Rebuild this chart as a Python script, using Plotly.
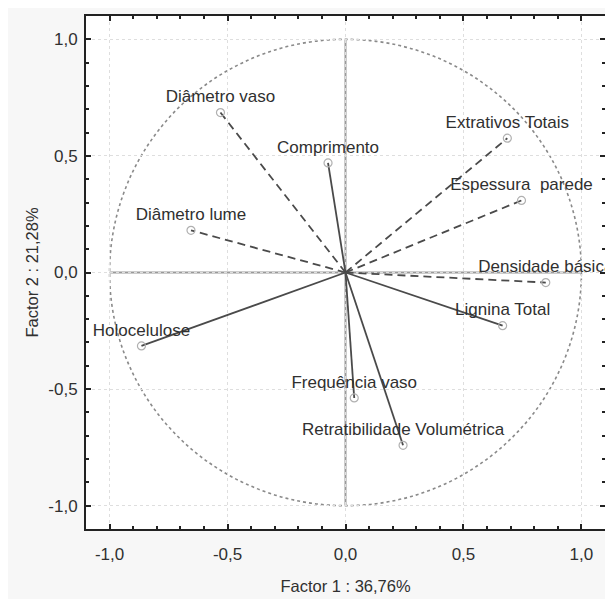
import plotly.graph_objects as go

variables = ["Diâmetro vaso", "Extrativos Totais", "Comprimento", "Espessura  parede",
             "Diâmetro lume", "Densidade básica", "Lignina Total", "Holocelulose",
             "Frequência vaso", "Retratibilidade Volumétrica"]
factor1 = [-0.53, 0.686, -0.074, 0.746, -0.655, 0.849, 0.666, -0.865, 0.037, 0.244]
factor2 = [0.686, 0.576, 0.470, 0.309, 0.181, -0.043, -0.228, -0.315, -0.538, -0.741]
dashed = [True, True, False, True, True, True, False, False, False, False]

x_ticks = [-1.0, -0.5, 0.0, 0.5, 1.0]
y_ticks = [-1.0, -0.5, 0.0, 0.5, 1.0]
tick_labels = ["-1,0", "-0,5", "0,0", "0,5", "1,0"]
x_title = "Factor 1 : 36,76%"
y_title = "Factor 2 : 21,28%"

FONT = "Liberation Sans, Arial, sans-serif"
LINE = "#4a4a4a"
TXT = "#303030"

fig = go.Figure()

# unit circle
fig.add_shape(type="circle", xref="x", yref="y", x0=-1, y0=-1, x1=1, y1=1,
              line=dict(color="#8a8a8a", width=1.6, dash="dot"), layer="below")
# zero axes lines
fig.add_shape(type="line", xref="x", yref="y", x0=-1, y0=0, x1=1, y1=0,
              line=dict(color="#9a9a9a", width=2), layer="below")
fig.add_shape(type="line", xref="x", yref="y", x0=0, y0=-1, x1=0, y1=1,
              line=dict(color="#9a9a9a", width=2), layer="below")

for name, fx, fy, d in zip(variables, factor1, factor2, dashed):
    fig.add_trace(go.Scatter(
        x=[0, fx], y=[0, fy], mode="lines",
        line=dict(color=LINE, width=1.8, dash="8px,5px" if d else "solid"),
        showlegend=False, hoverinfo="skip"))

fig.add_trace(go.Scatter(
    x=factor1, y=factor2, mode="markers+text",
    text=[v for v in variables], textposition="top center",
    textfont=dict(family=FONT, size=17, color=TXT),
    marker=dict(symbol="circle-open", size=8, color="#b0b0b0", line=dict(width=1.2)),
    cliponaxis=True, showlegend=False, hoverinfo="skip"))

axis_common = dict(
    range=[-1.1, 1.1], showline=True, linecolor="#222222", linewidth=2, mirror="ticks",
    ticks="inside", ticklen=5, tickwidth=1.5, tickcolor="#222222",
    showgrid=True, gridcolor="#dedede", griddash="dot", gridwidth=1,
    zeroline=False,
    minor=dict(dtick=0.1, ticks="inside", ticklen=3, tickcolor="#222222", showgrid=False),
    tickfont=dict(family=FONT, size=17, color=TXT),
)

fig.update_xaxes(**axis_common, tickvals=x_ticks, ticktext=tick_labels, ticklabelstandoff=9,
                 title=dict(text=x_title, font=dict(family=FONT, size=16.5, color=TXT), standoff=17))
fig.update_yaxes(**axis_common, tickvals=y_ticks, ticktext=tick_labels, ticklabelstandoff=3,
                 title=dict(text=y_title, font=dict(family=FONT, size=16.5, color=TXT), standoff=6))

fig.update_layout(
    width=605, height=591,
    margin=dict(l=78, r=6, t=7, b=63),
    paper_bgcolor="#f7f7f7", plot_bgcolor="#ffffff",
    showlegend=False,
)

fig.write_html("out.html")
